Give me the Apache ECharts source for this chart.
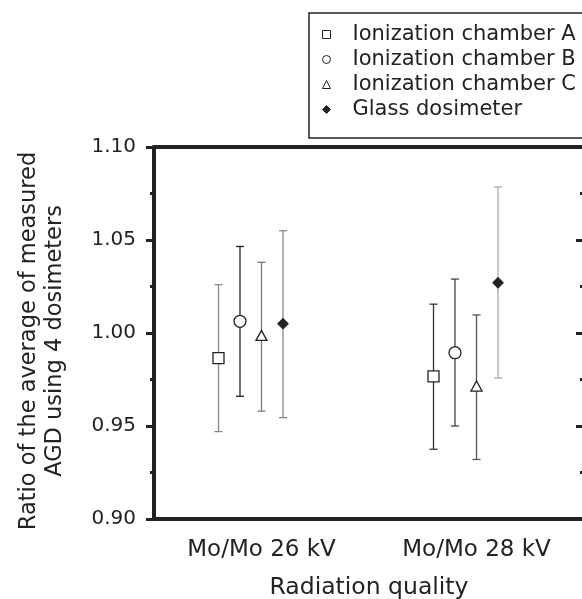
<!DOCTYPE html>
<html>
<head>
<meta charset="utf-8">
<script src="https://cdn.jsdelivr.net/npm/echarts@6/dist/echarts.min.js"></script>
<style>
  html, body { margin: 0; padding: 0; background: #fff; }
  #chart { width: 582px; height: 599px; }
</style>
</head>
<body>
<div id="chart"></div>
<script>
const categories = ['Mo/Mo 26 kV', 'Mo/Mo 28 kV']
const seriesNames = ['Ionization chamber A', 'Ionization chamber B', 'Ionization chamber C', 'Glass dosimeter']

// mean and error range per dosimeter, one value per radiation quality
const meanA = [0.9865, 0.9767]
const lowA = [0.947, 0.9375]
const highA = [1.026, 1.0155]

const meanB = [1.0063, 0.9894]
const lowB = [0.966, 0.950]
const highB = [1.0465, 1.029]

const meanC = [0.9987, 0.9715]
const lowC = [0.958, 0.932]
const highC = [1.038, 1.0097]

const meanG = [1.005, 1.027]
const lowG = [0.9545, 0.9758]
const highG = [1.055, 1.0785]

const yTicks = [0.90, 0.95, 1.00, 1.05, 1.10]

const FONT = 'DejaVu Sans'

// position inside a category band, as a share of the band width
const offsets = [-0.2, -0.1, 0, 0.1]
const symbols = ['rect', 'circle', 'triangle', 'diamond']
const symbolSizes = [11, 12, [11, 10], 10]
const markerFill = ['#fff', '#fff', '#fff', '#222']
const barColors = [
  ['#888', '#333'],
  ['#222', '#444'],
  ['#777', '#555'],
  ['#888', '#aaa']
]

const means = [meanA, meanB, meanC, meanG]
const lows = [lowA, lowB, lowC, lowG]
const highs = [highA, highB, highC, highG]

function errorBarSeries(k) {
  return {
    type: 'custom',
    name: seriesNames[k] + ' range',
    z: 1,
    silent: true,
    data: categories.map((c, i) => [i, lows[k][i], highs[k][i]]),
    renderItem: function (params, api) {
      const band = api.size([1, 0])[0]
      const lo = api.coord([api.value(0), api.value(1)])
      const hi = api.coord([api.value(0), api.value(2)])
      const x = lo[0] + offsets[k] * band
      const color = barColors[k][api.value(0)]
      const style = { stroke: color, lineWidth: 1.3 }
      return {
        type: 'group',
        children: [
          { type: 'line', shape: { x1: x, y1: lo[1], x2: x, y2: hi[1] }, style: style },
          { type: 'line', shape: { x1: x - 4, y1: lo[1], x2: x + 4, y2: lo[1] }, style: style },
          { type: 'line', shape: { x1: x - 4, y1: hi[1], x2: x + 4, y2: hi[1] }, style: style }
        ]
      }
    }
  }
}

function markerSeries(k) {
  return {
    type: 'scatter',
    name: seriesNames[k],
    z: 3,
    symbol: symbols[k],
    symbolSize: symbolSizes[k],
    symbolOffset: [offsets[k] * 215, 0],
    itemStyle: {
      color: markerFill[k],
      borderColor: '#222',
      borderWidth: 1.3,
      opacity: 1
    },
    data: categories.map((c, i) => [i, means[k][i]])
  }
}

const chart = echarts.init(document.getElementById('chart'))

const option = {
  backgroundColor: '#fff',
  animation: false,
  textStyle: { fontFamily: FONT },
  legend: {
    orient: 'vertical',
    left: 309,
    top: 13,
    data: seriesNames.map((n, k) => ({
      name: n,
      itemStyle: { color: markerFill[k], borderColor: '#222', borderWidth: 1 }
    })),
    itemWidth: 8,
    itemHeight: 8,
    itemGap: 4,
    padding: [11, 30, 18, 13],
    borderColor: '#222',
    borderWidth: 1.5,
    selectedMode: false,
    textStyle: {
      fontFamily: FONT,
      fontSize: 21,
      color: '#222',
      lineHeight: 21,
      padding: [0, 0, 0, 17]
    }
  },
  grid: {
    left: 154,
    top: 147,
    width: 430,
    bottom: 80,
    outerBoundsMode: 'none'
  },
  xAxis: [
    {
      type: 'category',
      position: 'bottom',
      data: categories,
      boundaryGap: true,
      name: 'Radiation quality',
      nameLocation: 'middle',
      nameGap: 57,
      nameTextStyle: { fontFamily: FONT, fontSize: 23.5, color: '#222' },
      axisLine: { lineStyle: { color: '#222', width: 4 } },
      axisTick: { alignWithLabel: true, length: 7, lineStyle: { color: '#222', width: 3 } },
      axisLabel: { margin: 20, fontFamily: FONT, fontSize: 23, color: '#222' },
      splitLine: { show: false }
    },
    {
      type: 'category',
      position: 'top',
      data: categories,
      boundaryGap: true,
      axisLine: { lineStyle: { color: '#222', width: 4 } },
      axisTick: { alignWithLabel: true, inside: true, length: 7, lineStyle: { color: '#222', width: 3 } },
      axisLabel: { show: false },
      splitLine: { show: false }
    }
  ],
  yAxis: [
    {
      type: 'value',
      position: 'left',
      min: yTicks[0],
      max: yTicks[yTicks.length - 1],
      interval: 0.05,
      name: 'Ratio of the average of measured\nAGD using 4 dosimeters',
      nameLocation: 'middle',
      nameGap: 86,
      nameTextStyle: {
        fontFamily: FONT,
        fontSize: 22.5,
        color: '#222',
        lineHeight: 26,
        padding: [0, 16, 0, 0]
      },
      axisLine: { show: true, lineStyle: { color: '#222', width: 4 } },
      axisTick: { show: true, length: 8, lineStyle: { color: '#222', width: 3 } },
      minorTick: { show: true, splitNumber: 2, length: 4, lineStyle: { color: '#222', width: 3 } },
      axisLabel: {
        margin: 18,
        fontFamily: FONT,
        fontSize: 20,
        color: '#222',
        formatter: v => v.toFixed(2)
      },
      splitLine: { show: false }
    },
    {
      type: 'value',
      position: 'right',
      min: yTicks[0],
      max: yTicks[yTicks.length - 1],
      interval: 0.05,
      axisLine: { show: true, lineStyle: { color: '#222', width: 4 } },
      axisTick: { show: true, inside: true, length: 8, lineStyle: { color: '#222', width: 3 } },
      minorTick: { show: true, splitNumber: 2, length: 4, lineStyle: { color: '#222', width: 3 } },
      axisLabel: { show: false },
      splitLine: { show: false }
    }
  ],
  series: [0, 1, 2, 3].map(errorBarSeries).concat([0, 1, 2, 3].map(markerSeries))
}

chart.setOption(option)
</script>
</body>
</html>
